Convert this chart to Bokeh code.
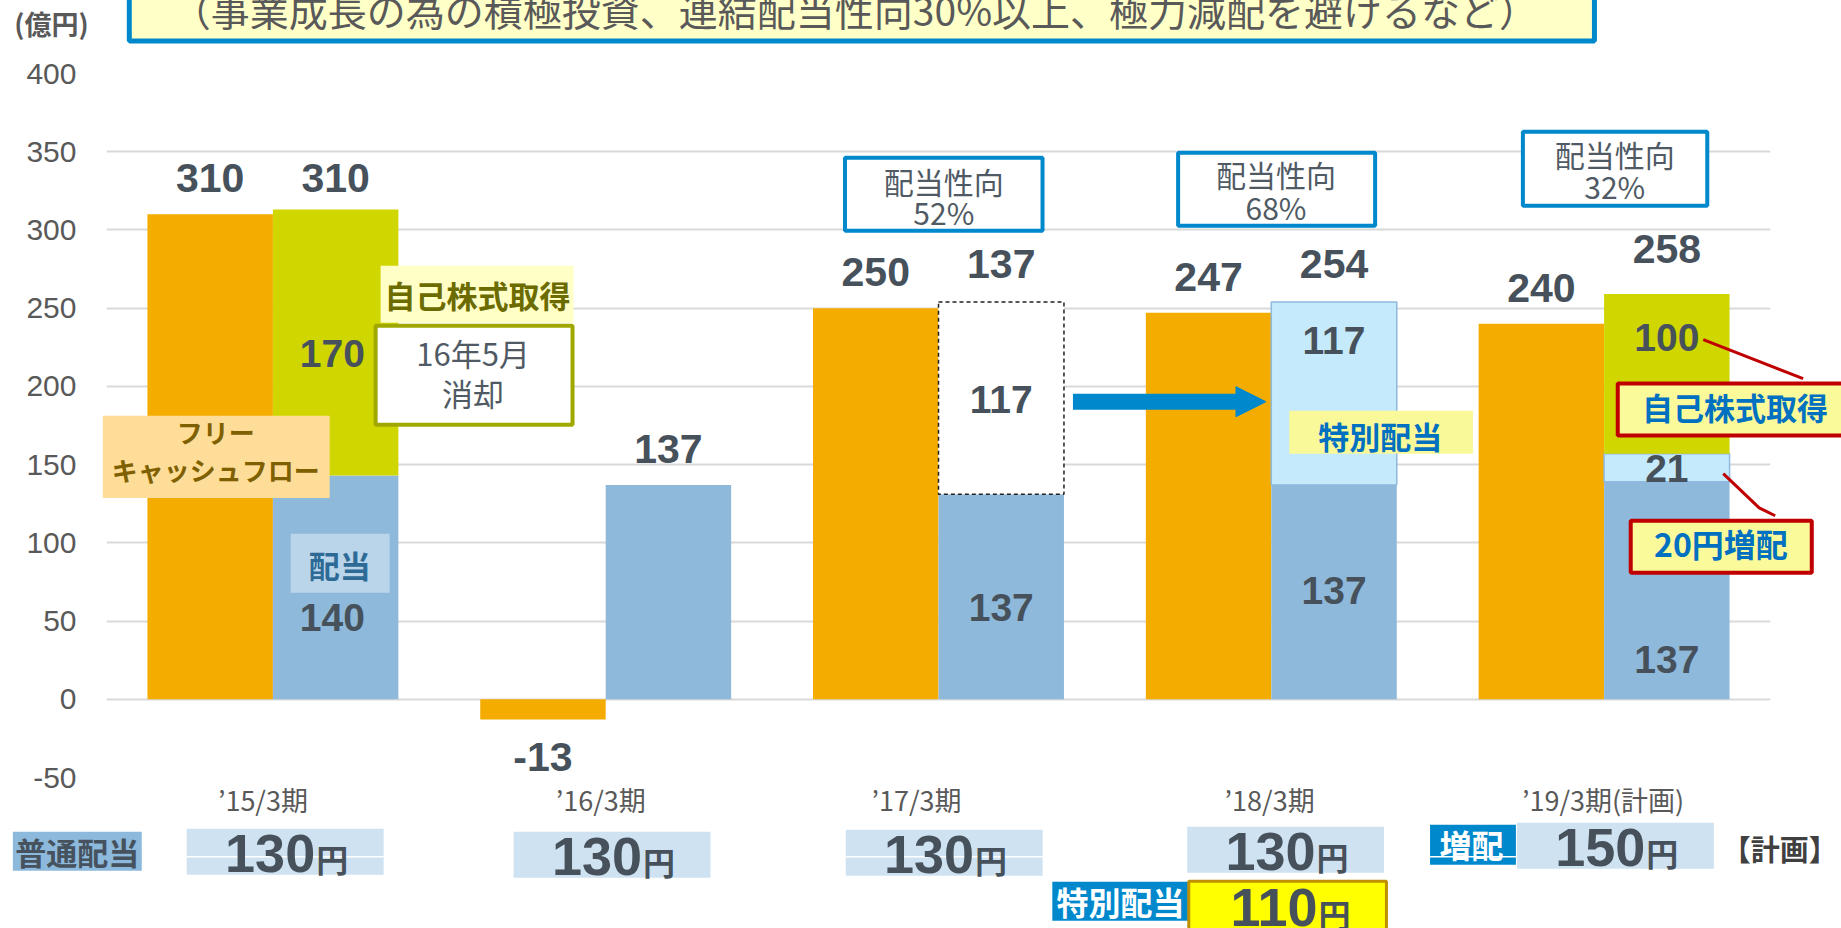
from bokeh.plotting import figure
from bokeh.models import Range1d, FixedTicker, Arrow, NormalHead, ColumnDataSource
from bokeh.core.properties import value
from bokeh.embed import file_html
from bokeh.resources import INLINE

# ---------------- data ----------------
categories = ["’15/3期", "’16/3期", "’17/3期", "’18/3期", "’19/3期(計画)"]
free_cash_flow = [310, -13, 250, 247, 240]          # フリーキャッシュフロー
dividend = [143, 137, 131, 137, 139]                # 配当 (drawn height)
extra_dividend = [0, 0, 123, 117, 18]               # 特別配当 / 増配 segment
extra_kind = ["", "", "unpaid", "special", "increase"]
buyback = [170, 0, 0, 0, 102]                       # 自己株式取得

fcf_labels = ["310", "-13", "250", "247", "240"]
total_labels = ["310", "137", "137", "254", "258"]
dividend_labels = ["140", "", "137", "137", "137"]
extra_labels = ["", "", "117", "117", "21"]
buyback_labels = ["170", "", "", "", "100"]
payout_ratio = ["", "", "52%", "68%", "32%"]
ordinary_dividend_yen = ["130", "130", "130", "130", "150"]
special_dividend_yen = "110"
y_ticks = [-50, 0, 50, 100, 150, 200, 250, 300, 350, 400]

# ---------------- style constants ----------------
ORANGE = "#f5ac00"
BLUE = "#8eb9db"
LIGHT = "#c4eafc"
GREEN = "#d0d600"
VAL = "#46515b"
GRAY = "#595959"
JP = "Noto Sans CJK JP"
NUM = "Liberation Sans"
BW = 0.377
OFF = 0.1885

p = figure(width=1841, height=928, x_range=Range1d(-0.5, 4.5), y_range=Range1d(-50, 400),
           output_backend="svg", toolbar_location=None,
           min_border_left=106, min_border_right=71, min_border_top=73, min_border_bottom=151)
p.outline_line_color = None
p.background_fill_color = "white"
p.border_fill_color = "white"

p.xgrid.visible = False
p.yaxis.ticker = FixedTicker(ticks=y_ticks)
p.ygrid.ticker = FixedTicker(ticks=y_ticks)
p.ygrid.grid_line_color = "#d9d9d9"
p.ygrid.grid_line_width = 2

p.yaxis.axis_line_color = None
p.yaxis.major_tick_line_color = None
p.yaxis.minor_tick_line_color = None
p.yaxis.major_label_standoff = 24
p.yaxis.major_label_overrides = {t: str(t) for t in y_ticks}
p.yaxis.major_label_text_font = NUM
p.yaxis.major_label_text_font_size = "30px"
p.yaxis.major_label_text_color = GRAY

label_shift = [-0.03, -0.015, -0.066, -0.005, -0.003]
x_ticks = [round(i + s, 3) for i, s in enumerate(label_shift)]
p.xaxis.ticker = FixedTicker(ticks=x_ticks)
p.xaxis.major_label_overrides = {t: c for t, c in zip(x_ticks, categories)}
p.xaxis.axis_line_color = None
p.xaxis.major_tick_line_color = None
p.xaxis.minor_tick_line_color = None
p.xaxis.major_label_standoff = -4
p.xaxis.major_label_text_font = JP
p.xaxis.major_label_text_font_size = "27px"
p.xaxis.major_label_text_color = GRAY

idx = list(range(len(categories)))

# ---------------- bars ----------------
src = ColumnDataSource(dict(
    xo=[i - OFF for i in idx], xb=[i + OFF for i in idx],
    fcf=free_cash_flow, div=dividend,
))
p.vbar(x="xo", width=BW, top="fcf", bottom=0, fill_color=ORANGE, line_color=None, source=src)
p.vbar(x="xb", width=BW, top="div", bottom=0, fill_color=BLUE, line_color=None, source=src)

for i in idx:
    if extra_dividend[i] == 0:
        continue
    if extra_kind[i] == "unpaid":
        p.vbar(x=[i + OFF], width=BW, bottom=[dividend[i]], top=[dividend[i] + extra_dividend[i]],
               fill_color="white", line_color="#222222", line_width=1.5, line_dash="4 3")
    else:
        p.vbar(x=[i + OFF], width=BW, bottom=[dividend[i]], top=[dividend[i] + extra_dividend[i]],
               fill_color=LIGHT, line_color="#8fb9dd", line_width=1.5)

for i in idx:
    if buyback[i] == 0:
        continue
    base = dividend[i] + extra_dividend[i]
    p.vbar(x=[i + OFF], width=BW, bottom=[base], top=[base + buyback[i]],
           fill_color=GREEN, line_color=None)


def txt(x, y, s, size, color, bold=False, font=JP, align="center"):
    p.text(x=[x], y=[y], text=[s], text_font=value(font), text_font_size=f"{size}px",
           text_color=color, text_font_style="bold" if bold else "normal",
           text_align=align, text_baseline="middle", level="overlay")


def box(l, r, t, b, fill, line=None, lw=0):
    p.quad(left=[l], right=[r], top=[t], bottom=[b], fill_color=fill,
           line_color=line, line_width=lw, level="overlay")


# ---------------- value labels (centres) ----------------
total_nudge = [-3, 0, 1, 1.5, 6]
for i in idx:
    if free_cash_flow[i] >= 0:
        txt(i - OFF, free_cash_flow[i] + 23, fcf_labels[i], 41, VAL, True, NUM)
    else:
        txt(i - OFF, free_cash_flow[i] - 23.7, fcf_labels[i], 41, VAL, True, NUM)
    top = dividend[i] + extra_dividend[i] + buyback[i]
    txt(i + OFF, top + 23 + total_nudge[i], total_labels[i], 41, VAL, True, NUM)

div_label_y = [52.5, 0, 58.9, 69.7, 25.6]
extra_label_y = [0, 0, 191.8, 229.2, 147.7]
bb_label_y = [221.2, 0, 0, 0, 231.4]
inner_dx = [-0.01, 0, 0, 0, 0]
for i in idx:
    if dividend_labels[i]:
        txt(i + OFF + inner_dx[i], div_label_y[i], dividend_labels[i], 39, VAL, True, NUM)
    if extra_labels[i]:
        txt(i + OFF, extra_label_y[i], extra_labels[i], 39, VAL, True, NUM)
    if buyback_labels[i]:
        txt(i + OFF + inner_dx[i], bb_label_y[i], buyback_labels[i], 39, VAL, True, NUM)

# ---------------- arrow ----------------
p.add_layout(Arrow(end=NormalHead(size=30, fill_color="#0088cc", line_color="#0088cc"),
                   x_start=2.404, y_start=190.2, x_end=2.984, y_end=190.2,
                   line_color="#0088cc", line_width=16))

# ---------------- top title & unit ----------------
box(-0.4315, 3.971, 480, 420.8, "#ffffc8", "#0088cc", 5)
txt(1.749, 441.5, "（事業成長の為の積極投資、連結配当性向30%以上、極力減配を避けるなど）", 39, GRAY)
txt(-0.777, 432.0, "(億円)", 27, GRAY, True, align="left")

# ---------------- '15 annotations ----------------
box(-0.511, 0.1706, 181.3, 128.7, "#fedd98")
txt(-0.172, 171.0, "フリー", 26, "#7f6000", True)
txt(-0.172, 146.7, "キャッシュフロー", 26, "#7f6000", True)
box(0.0535, 0.3508, 105.8, 68.1, "#bad5ea")
txt(0.2006, 86.3, "配当", 31, "#2e6a96", True)
box(0.3237, 0.9033, 277.1, 240.7, "#ffffc6")
txt(0.615, 258.9, "自己株式取得", 31, "#6b6b00", True)
box(0.3087, 0.9003, 238.8, 175.5, "white", "#a0a800", 4)
txt(0.6015, 221.9, "16年5月", 31, "#505a64")
txt(0.6015, 196.3, "消却", 31, "#505a64")

# ---------------- payout ratio boxes ----------------
pr_box = {2: (1.719, 2.3126, 346.2, 299.5, 2.016, 331.5, 311.3),
          3: (2.720, 3.312, 349.4, 302.7, 3.014, 335.6, 314.5),
          4: (3.756, 4.310, 362.8, 315.5, 4.032, 348.4, 328.3)}
for i, (l, r, t, b, cx, y1, y2) in pr_box.items():
    box(l, r, t, b, "white", "#0088cc", 4)
    txt(cx, y1, "配当性向", 30, "#505a64")
    txt(cx, y2, payout_ratio[i], 30, "#505a64")

# ---------------- '18 / '19 annotations ----------------
box(3.054, 3.606, 184.5, 157.0, "#f9f99a")
txt(3.327, 168.5, "特別配当", 31, "#0070c0", True)

p.line([4.298, 4.598], [229.9, 204.9], line_color="#c00000", line_width=3, level="overlay")
p.line([4.358, 4.466, 4.514], [144.2, 122.4, 117.3], line_color="#c00000", line_width=3, level="overlay")
box(4.041, 4.738, 201.8, 168.6, "#fafa9a", "#c00000", 4)
txt(4.393, 187.3, "自己株式取得", 31, "#0070c0", True)
box(4.080, 4.624, 114.1, 80.9, "#fafa9a", "#c00000", 4)
txt(4.351, 99.8, "20円増配", 32, "#0070c0", True)

# ---------------- bottom dividend-per-share row ----------------
box(-0.7814, -0.394, -84.7, -109.6, "#8db9dc")
txt(-0.5877, -97.4, "普通配当", 31, "#46525e", True)

yen_cx = [0.037, 1.019, 2.017, 3.043, 4.034]
yen_top = [-82.8, -84.7, -83.4, -81.5, -78.9]
yen_line = [True, False, True, False, False]
for i in idx:
    cx, t = yen_cx[i], yen_top[i]
    b = t - 29.4
    box(cx - 0.2958, cx + 0.2958, t, b, "#cfe2f1")
    if yen_line[i]:
        p.segment(x0=[cx - 0.2958], x1=[cx + 0.2958], y0=[-100.6], y1=[-100.6],
                  line_color="white", line_width=1.5, level="overlay")
    txt(cx + 0.09, b + 13.7, ordinary_dividend_yen[i], 54, VAL, True, NUM, align="right")
    txt(cx + 0.093, b + 10.5, "円", 32, VAL, True, align="left")

box(3.477, 3.735, -80.2, -105.8, "#0088cc")
p.segment(x0=[3.477], x1=[3.735], y0=[-100.6], y1=[-100.6], line_color="white",
          line_width=1.5, level="overlay")
txt(3.6015, -92.3, "増配", 32, "white", True)
txt(4.528, -95.2, "【計画】", 29, "#404040", True)

box(2.342, 2.753, -116.6, -141.5, "#0088cc")
txt(2.547, -128.8, "特別配当", 32, "white", True)
box(2.752, 3.346, -116.3, -165.0, "#ffff00", "#bf9000", 3)
txt(3.049 + 0.09, -132.9, special_dividend_yen, 54, VAL, True, NUM, align="right")
txt(3.049 + 0.093, -136.5, "円", 32, VAL, True, align="left")

open("out.html", "w").write(file_html(p, INLINE))
